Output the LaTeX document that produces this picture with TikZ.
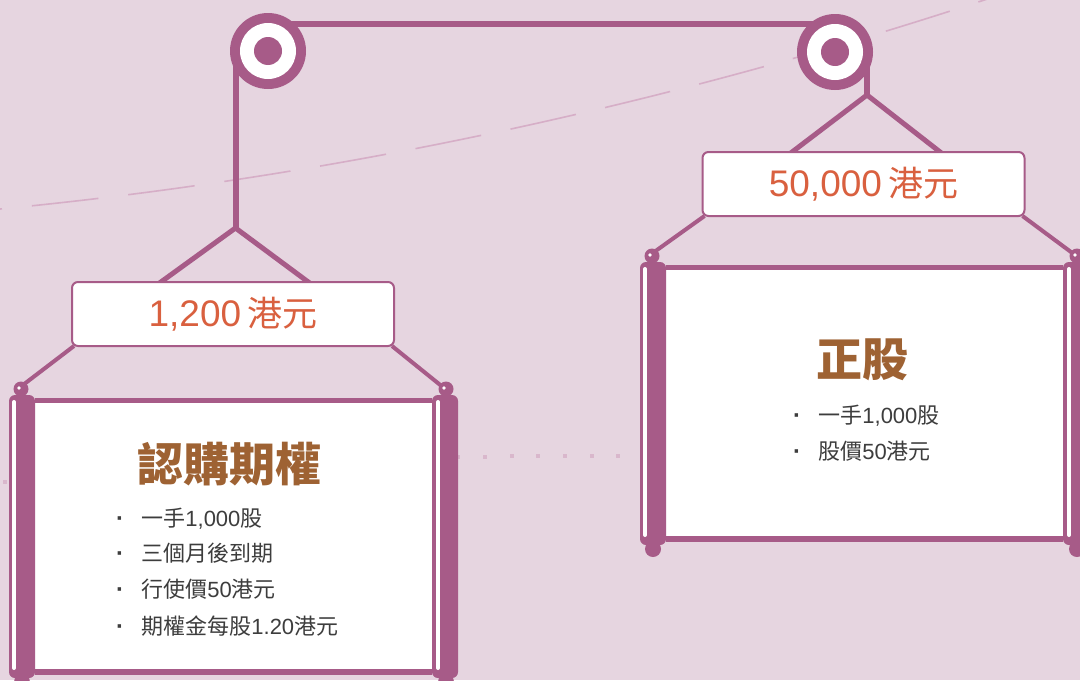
\documentclass[tikz,border=0pt]{standalone}
\usepackage{fontspec}
\usetikzlibrary{calc}
\newfontfamily\cjkfont{Noto Sans CJK TC}
\newfontfamily\latfont{Liberation Sans}
\newcommand\zhtxt[1]{{\cjkfont #1}}
\newcommand\lattxt[1]{{\latfont #1}}
\definecolor{bgc}{HTML}{E6D5E0}
\definecolor{purp}{HTML}{A75B88}
\definecolor{orangec}{HTML}{D9603F}
\definecolor{brownc}{HTML}{9E6233}
\definecolor{textc}{HTML}{3D3D3D}
\definecolor{dashc}{HTML}{D6AEC7}
\definecolor{dotc}{HTML}{D9B7CC}
\pgfdeclarelayer{bottom}
\pgfdeclarelayer{ropes}
\pgfsetlayers{bottom,ropes,main}
\newcommand\drawscroll[3]{%
  \begin{scope}[shift={(#1,#2)}]
    \fill[purp] (35,398) rectangle (432,675);
    \fill[white] (35,403) rectangle (432,669);
    \fill[purp,rounded corners=3pt] (9,395) rectangle (35,678);
    \fill[purp,rounded corners=3pt] (432,395) rectangle (458,678);
    \fill[purp] (21,389) circle[radius=3.75pt];
    \fill[purp] (446,389) circle[radius=3.75pt];
    \fill[purp] (22,682) circle[radius=4pt];
    \fill[purp] (446,682) circle[radius=4pt];
    \draw[white,line width=2pt,line cap=round] (14,402) -- (14,668);
    \draw[white,line width=2pt,line cap=round] (438,402) -- (438,668);
    \fill[white] (#3A) circle[radius=0.9pt];
    \fill[white] (#3B) circle[radius=0.9pt];
  \end{scope}}
\begin{document}
\begin{tikzpicture}[x=0.5pt,y=-0.5pt,
  rope/.style={draw=purp,line width=3pt},
  hang/.style={draw=purp,line width=2.5pt},
  link/.style={draw=purp,line width=2pt},
  pricebox/.style={draw=purp,line width=1pt,fill=white,rounded corners=3pt,
    minimum width=161pt,minimum height=32pt,inner sep=0pt,text=orangec,
    font=\fontsize{18.5}{22}\selectfont},
  pulley/.style={circle,fill=purp,minimum size=38pt,inner sep=0pt},
  titletext/.style={text=brownc,inner sep=0pt,font=\cjkfont\bfseries\fontsize{23}{27}\selectfont},
  itemtext/.style={text=textc,anchor=base west,inner sep=0pt,font=\fontsize{11}{13}\selectfont},
  bul/.style={text=textc,anchor=base,inner sep=0pt,font=\latfont\bfseries\fontsize{12}{13}\selectfont},
]
\useasboundingbox (0,0) rectangle (1080,680);
\clip (0,0) rectangle (1080,680);

\begin{pgfonlayer}{bottom}
  \fill[bgc] (0,0) rectangle (1080,680);
  \draw[dashc,line width=0.8pt,dash pattern=on 33.5pt off 15pt,dash phase=32.5pt]
    (0,209) .. controls (360,174.3) and (720,93.8) .. (1080,-32.5);
  \foreach \i in {0,...,23}{
    \pgfmathsetmacro\xx{5+26.66*\i}
    \pgfmathsetmacro\yy{455.5+0.705*((\xx-618)/100)^2}
    \fill[dotc] (\xx-2,\yy-2) rectangle (\xx+2,\yy+2);
  }
\end{pgfonlayer}

% named points
\coordinate (cL) at (268,51);
\coordinate (cR) at (835,52);
\coordinate (apexL) at (235.5,228);
\coordinate (apexR) at (867,95);
\coordinate (pinLA) at (19,388);
\coordinate (pinLB) at (444,388);
\coordinate (pinRA) at (650,255);
\coordinate (pinRB) at (1075,255);

% pulleys
\node[pulley] (pL) at (cL) {};
\fill[white] (pL.center) circle[radius=14pt];
\fill[purp] (pL.center) circle[radius=7pt];
\node[pulley] (pR) at (cR) {};
\fill[white] (pR.center) circle[radius=14pt];
\fill[purp] (pR.center) circle[radius=7pt];

% price boxes
\node[pricebox] (boxL) at (233,314) {\raisebox{-1pt}{\lattxt{1,200}\,\zhtxt{\fontsize{17.5}{22}\selectfont 港元}}};
\node[pricebox] (boxR) at (863.5,184) {\raisebox{-1pt}{\lattxt{50,000}\,\zhtxt{\fontsize{17.5}{22}\selectfont 港元}}};

% ropes and hangers
\begin{pgfonlayer}{ropes}
  \draw[rope] ($(pL.center)+(0,-27)$) -- ($(pR.center)+(0,-28)$);
  \draw[rope] ($(pL.center)+(-32.5,0)$) -- (apexL);
  \draw[rope] ($(pR.center)+(32,0)$) -- (apexR);
  \draw[hang] (apexL) -- ($(boxL.north west)+(83,6)$);
  \draw[hang] (apexL) -- ($(boxL.north west)+(244,6)$);
  \draw[hang] (apexR) -- ($(boxR.north west)+(84,6)$);
  \draw[hang] (apexR) -- ($(boxR.north west)+(245,6)$);
  \draw[link] ($(boxL.south west)+(3,-1)$) -- (pinLA);
  \draw[link] ($(boxL.south east)+(-3,-1)$) -- (pinLB);
  \draw[link] ($(boxR.south west)+(3,-1)$) -- (pinRA);
  \draw[link] ($(boxR.south east)+(-3,-1)$) -- (pinRB);
\end{pgfonlayer}

% scrolls
\drawscroll{0}{0}{pinL}
\drawscroll{631}{-133}{pinR}

% left scroll text
\node[titletext] (tL) at (229,464) {認購期權};
\foreach \yb/\txt in {526/{\zhtxt{一手}\lattxt{1,000}\zhtxt{股}},
                      561/{\zhtxt{三個月後到期}},
                      597/{\zhtxt{行使價}\lattxt{50}\zhtxt{港元}},
                      634/{\zhtxt{期權金每股}\lattxt{1.20}\zhtxt{港元}}}{
  \node[bul] at (120,\yb) {·};
  \node[itemtext] at (141,\yb) {\txt};
}
% right scroll text
\node[titletext] (tR) at (862,360) {正股};
\node[bul] (bR1) at (797,423) {·};
\node[itemtext] (iR1) at (818,423) {\zhtxt{一手}\lattxt{1,000}\zhtxt{股}};
\node[bul] (bR2) at (797,459) {·};
\node[itemtext] (iR2) at (818,459) {\zhtxt{股價}\lattxt{50}\zhtxt{港元}};
\end{tikzpicture}
\end{document}
